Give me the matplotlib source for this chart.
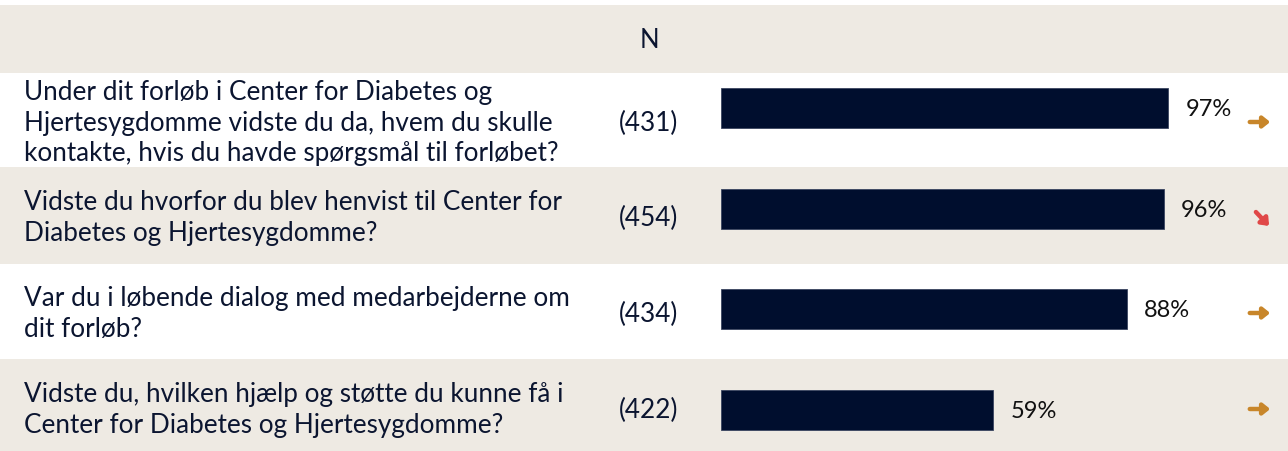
import matplotlib.pyplot as plt

questions = [
    "Under dit forløb i Center for Diabetes og\nHjertesygdomme vidste du da, hvem du skulle\nkontakte, hvis du havde spørgsmål til forløbet?",
    "Vidste du hvorfor du blev henvist til Center for\nDiabetes og Hjertesygdomme?",
    "Var du i løbende dialog med medarbejderne om\ndit forløb?",
    "Vidste du, hvilken hjælp og støtte du kunne få i\nCenter for Diabetes og Hjertesygdomme?",
]
n_values = [431, 454, 434, 422]
pct_values = [97, 96, 88, 59]
trends = ["flat", "down", "flat", "flat"]

beige = "#EEEAE3"
navy = "#000E2E"
text_col = "#0B1530"
orange = "#C8862A"
red = "#E04848"

plt.rcParams["font.family"] = ["Lato", "DejaVu Sans"]

W, H = 1288, 452
fig = plt.figure(figsize=(W / 100, H / 100), dpi=100)

# background axes in pixel coords
bg = fig.add_axes([0, 0, 1, 1])
bg.set_xlim(0, W)
bg.set_ylim(H, 0)
bg.axis("off")

bands = [(6, 74), (74, 168), (168, 265), (265, 360), (360, 452)]
for i, (y0, y1) in enumerate(bands):
    if i % 2 == 0:
        bg.axhspan(y0, y1, color=beige, lw=0)

bg.text(649, 41, "N", ha="center", va="center", fontsize=18.5, color=text_col)

text_y = [123, 218, 314, 410]
for i, q in enumerate(questions):
    bg.text(24, text_y[i], q, ha="left", va="center", fontsize=18.8,
            color=text_col, linespacing=1.26)
    bg.text(649, text_y[i], "(%d)" % n_values[i], ha="center", va="center",
            fontsize=18.8, color=text_col)
    if trends[i] == "flat":
        bg.annotate("", xy=(1273, text_y[i]), xytext=(1247, text_y[i]),
                    arrowprops=dict(arrowstyle="-|>,head_length=0.4,head_width=0.32",
                                    color=orange, lw=3.2))
    else:
        bg.annotate("", xy=(1271, text_y[i] + 11), xytext=(1254, text_y[i] - 7),
                    arrowprops=dict(arrowstyle="-|>,head_length=0.4,head_width=0.32",
                                    color=red, lw=3.2))

# bar axes: 0..100% maps to x 721..1182
ax = fig.add_axes([721 / W, 0, 461 / W, 1])
ax.set_xlim(0, 100)
bar_y = [109, 210, 310, 411]
ax.set_ylim(H, 0)
ax.barh(bar_y, pct_values, height=40, color=navy, edgecolor="#3A4560", lw=0.6)
for y, v in zip(bar_y, pct_values):
    ax.text(v + 3.8, y + 1, "%d%%" % v, ha="left", va="center", fontsize=17,
            color="#111111")
ax.axis("off")
ax.patch.set_alpha(0)

fig.savefig("out.png", dpi=100)
